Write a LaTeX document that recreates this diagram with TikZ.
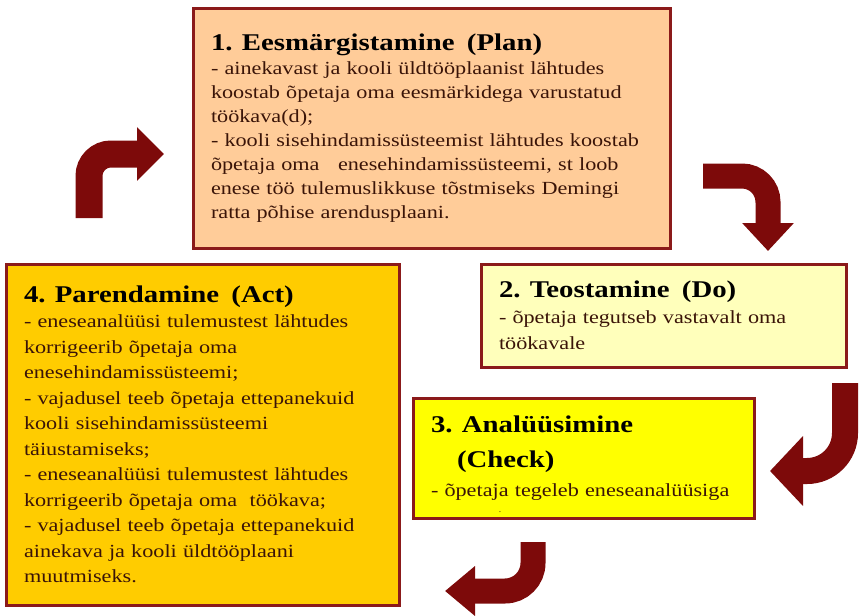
\documentclass[tikz,border=0pt]{standalone}
\usepackage{fontspec}
\setmainfont{Liberation Serif}[FakeStretch=1.2]
\usetikzlibrary{arrows.meta}
\definecolor{frame}{HTML}{8B1A1A}
\definecolor{turncol}{HTML}{7D0A0A}
\definecolor{bodytext}{HTML}{3A1408}
\definecolor{planfill}{HTML}{FFCC99}
\definecolor{dofill}{HTML}{FFFFBB}
\definecolor{checkfill}{HTML}{FFFF00}
\definecolor{actfill}{HTML}{FFCC00}
\newcommand{\boxhead}[2][30]{{\color{black}\fontsize{24}{#1}\selectfont\bfseries #2\par}}

\begin{document}
\begin{tikzpicture}[x=1pt, y=-1pt,
  box/.style = {draw=frame, line width=3pt, rectangle, align=left, inner xsep=18pt, inner ysep=0pt, text=bodytext},
  turn/.style = {draw=turncol, line width=26pt}]
\useasboundingbox (0,0) rectangle (860,616);
% the four steps
\node[box, fill=planfill, text width=441pt, minimum height=240pt, font=\fontsize{18.5}{24}\selectfont] (1) at (431.5,128) {\boxhead{1. Eesmärgistamine\ \ (Plan)}- ainekavast ja kooli üldtööplaanist lähtudes\\ koostab õpetaja oma eesmärkidega varustatud\\ töökava(d);\\ - kooli sisehindamissüsteemist lähtudes koostab\\ õpetaja oma\ \ \ enesehindamissüsteemi, st loob\\ enese töö tulemuslikkuse tõstmiseks Demingi\\ ratta põhise arendusplaani.};
\node[box, fill=dofill, text width=329pt, minimum height=103pt, font=\fontsize{18.5}{26}\selectfont] (2) at (663.5,315.5) {\boxhead{2. Teostamine\ \ (Do)}- õpetaja tegutseb vastavalt oma\\ töökavale};
\node[box, fill=checkfill, text width=305pt, minimum height=120pt, font=\fontsize{18.5}{29}\selectfont] (3) at (583.5,458) {\boxhead[35]{3. Analüüsimine\\ \hspace*{26pt}(Check)}- õpetaja tegeleb eneseanalüüsiga};
\node[box, fill=actfill, text width=357pt, minimum height=341pt, font=\fontsize{18.5}{25.5}\selectfont] (4) at (202.5,434.5) {\boxhead{4. Parendamine\ \ (Act)}- eneseanalüüsi tulemustest lähtudes\\ korrigeerib õpetaja oma\\ enesehindamissüsteemi;\\ - vajadusel teeb õpetaja ettepanekuid\\ kooli sisehindamissüsteemi\\ täiustamiseks;\\ - eneseanalüüsi tulemustest lähtudes\\ korrigeerib õpetaja oma\ \ töökava;\\ - vajadusel teeb õpetaja ettepanekuid\\ ainekava ja kooli üldtööplaani\\ muutmiseks.};
\node[text=bodytext, font=\fontsize{8}{8}\selectfont, inner sep=0pt] (dot) at (500,512) {.};
% turning arrows
\coordinate (a1) at (89,218);
\coordinate (a2) at (164,154);
\coordinate (b1) at (703,176);
\coordinate (b2) at (768,251);
\coordinate (c1) at (845,383);
\coordinate (c2) at (770,471);
\coordinate (d1) at (533,542);
\coordinate (d2) at (445,591);
\draw[turn, line width=27pt, rounded corners=22pt, -{Triangle[length=27pt,width=52pt]}] (a1) |- (a2);
\draw[turn, line width=25pt, rounded corners=26pt, -{Triangle[length=28pt,width=50pt]}] (b1) -| (b2);
\draw[turn, line width=26pt, rounded corners=38pt, -{Triangle[length=33pt,width=68pt]}] (c1) |- (c2);
\draw[turn, line width=25pt, rounded corners=28pt, -{Triangle[length=30pt,width=48pt]}] (d1) |- (d2);
\end{tikzpicture}
\end{document}
